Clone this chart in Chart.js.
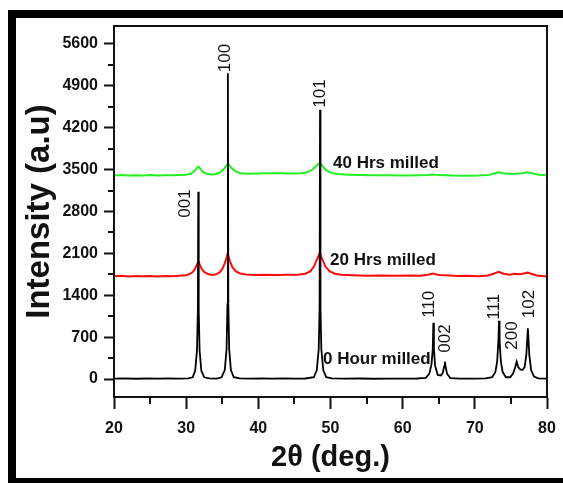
<!DOCTYPE html>
<html>
<head>
<meta charset="utf-8">
<script src="https://cdn.jsdelivr.net/npm/chart.js@4.4.1/dist/chart.umd.min.js"></script>
<style>
    html, body { margin: 0; padding: 0; background: #fff; }
    .wrap { position: relative; width: 563px; height: 483px; }
</style>
</head>
<body>
<div class="wrap"><canvas id="xrd"></canvas></div>
<script>
// 2θ ticks / intensity ticks
const xTicks = [20, 30, 40, 50, 60, 70, 80];
const yTicks = [0, 700, 1400, 2100, 2800, 3500, 4200, 4900, 5600];
const xMinor = [25, 35, 45, 55, 65, 75];
const yMinor = [350, 1050, 1750, 2450, 3150, 3850, 4550, 5250];

// 指標峰
const peakHkl = ['001', '100', '101', '110', '002', '111', '200', '102'];
const peakAngle = [31.68, 35.78, 48.55, 64.25, 65.85, 73.35, 75.8, 77.35];
const peakHeight = [3130, 5110, 4500, 940, 290, 975, 290, 850];

// 0 Hour milled  [2θ, intensity]
const hour0 = [
    [20, 6], [21.5, 10], [23, 5], [24.5, 9], [26, 6], [27.5, 11], [29, 8], [30.3, 12],
    [30.9, 30], [31.25, 140], [31.5, 480], [31.62, 1150], [31.68, 3130], [31.74, 1150], [31.86, 480], [32.1, 140], [32.5, 30], [33.2, 10],
    [34.2, 8], [34.9, 30], [35.35, 150], [35.6, 500], [35.72, 1250], [35.78, 5110], [35.84, 1250], [35.96, 500], [36.2, 150], [36.6, 30], [37.4, 10],
    [39, 6], [40.5, 12], [42, 7], [43.5, 10], [45, 6], [46.5, 9],
    [47.7, 30], [48.1, 150], [48.37, 500], [48.49, 1200], [48.55, 4500], [48.61, 1200], [48.73, 500], [49.0, 150], [49.4, 30], [50.2, 10],
    [52, 6], [54, 9], [56, 5], [58, 8], [60, 6], [62, 9], [63.2, 20],
    [63.7, 90], [64.0, 250], [64.17, 500], [64.25, 940], [64.33, 500], [64.5, 220], [64.85, 70], [65.3, 60],
    [65.55, 100], [65.75, 210], [65.85, 290], [65.95, 210], [66.15, 90], [66.6, 15],
    [68, 8], [70, 6], [71.5, 10], [72.4, 30], [72.85, 120], [73.1, 300], [73.27, 650], [73.35, 975], [73.43, 650], [73.6, 300], [73.85, 120], [74.3, 30], [74.9, 30],
    [75.3, 90], [75.6, 200], [75.8, 290], [76.0, 200], [76.3, 160], [76.6, 150], [76.9, 200], [77.15, 420], [77.35, 850], [77.55, 400], [77.8, 150], [78.2, 40], [78.8, 12], [80, 8]
];

// 20 Hrs milled
const hour20 = [
    [20, 1718], [21, 1725], [22, 1712], [23, 1722], [24, 1716], [25, 1724], [26, 1714], [27, 1722], [28, 1718], [29, 1726],
    [30, 1735], [30.6, 1760], [31.0, 1800], [31.3, 1860], [31.55, 1930], [31.7, 1965], [31.85, 1925], [32.1, 1850], [32.5, 1790],
    [33.0, 1755], [33.6, 1740], [34.2, 1750], [34.7, 1790], [35.1, 1860], [35.45, 1970], [35.75, 2100], [36.05, 1975], [36.4, 1870],
    [36.9, 1800], [37.5, 1765], [38.3, 1748], [39.5, 1740], [41, 1745], [42.5, 1738], [44, 1742], [45.5, 1745], [46.5, 1760],
    [47.2, 1800], [47.7, 1880], [48.1, 1990], [48.5, 2105], [48.9, 1990], [49.3, 1880], [49.9, 1800], [50.6, 1760], [51.5, 1742],
    [53, 1735], [55, 1728], [57, 1732], [59, 1725], [61, 1730], [62.5, 1728], [63.5, 1742], [64.2, 1762], [65, 1738], [66, 1735],
    [67.5, 1722], [69, 1726], [70.5, 1720], [71.8, 1730], [72.6, 1760], [73.3, 1792], [74.0, 1760], [74.8, 1745], [75.5, 1758],
    [76.2, 1750], [76.8, 1765], [77.3, 1778], [77.9, 1755], [78.6, 1730], [79.3, 1722], [80, 1715]
];

// 40 Hrs milled
const hour40 = [
    [20, 3402], [21, 3408], [22, 3400], [23, 3406], [24, 3401], [25, 3409], [26, 3403], [27, 3407], [28, 3404], [29, 3410],
    [30, 3414], [30.7, 3435], [31.2, 3480], [31.5, 3530], [31.7, 3550], [31.9, 3525], [32.3, 3465], [32.8, 3430], [33.5, 3418],
    [34.2, 3428], [34.8, 3460], [35.3, 3520], [35.8, 3605], [36.3, 3525], [36.9, 3465], [37.6, 3440], [38.5, 3432], [40, 3436],
    [41.5, 3440], [43, 3438], [44.5, 3436], [46, 3440], [46.9, 3460], [47.6, 3510], [48.1, 3570], [48.5, 3615], [48.9, 3560],
    [49.4, 3490], [50.1, 3445], [51, 3425], [52.5, 3416], [54, 3410], [56, 3406], [58, 3404], [60, 3402], [62, 3405], [63.5, 3410],
    [64.2, 3420], [65, 3408], [67, 3400], [69, 3398], [70.5, 3402], [72, 3412], [72.8, 3438], [73.3, 3455], [73.9, 3440],
    [74.8, 3430], [75.8, 3434], [76.6, 3440], [77.2, 3455], [77.9, 3438], [78.8, 3415], [80, 3405]
];

const seriesNames = ['0 Hour milled', '20 Hrs milled', '40 Hrs milled'];
// where the sample names sit (data coords)
const namePos = [[48.96, 334], [49.93, 1988], [50.35, 3609]];

// label nudges in px: [dx, gap below text]
const hklNudge = {
    '001': [-13, -26], '100': [-3, 1], '101': [0, 2], '110': [-4, 5],
    '002': [0, 9], '111': [-5, 1], '200': [-4, 12], '102': [1, 10]
};

const FONT = "'Liberation Sans', Arial, sans-serif";

const decor = {
    id: 'decor',
    beforeDraw(chart) {
        const c = chart.ctx;
        c.save();
        c.fillStyle = '#000';
        c.fillRect(8, 10, 555, 8);
        c.fillRect(8, 10, 8, 473);
        c.fillRect(8, 478, 555, 5);
        c.restore();
    },
    afterDraw(chart) {
        const c = chart.ctx;
        const {left, right, top, bottom} = chart.chartArea;
        const xs = chart.scales.x, ys = chart.scales.y;
        c.save();
        c.strokeStyle = '#111';
        c.lineWidth = 2;
        c.strokeRect(left, top, right - left, bottom - top);
        // minor ticks
        c.beginPath();
        xMinor.forEach(v => {
            const px = Math.round(xs.getPixelForValue(v));
            c.moveTo(px, bottom);
            c.lineTo(px, bottom + 7);
        });
        yMinor.forEach(v => {
            const py = Math.round(ys.getPixelForValue(v));
            c.moveTo(left - 6, py);
            c.lineTo(left, py);
        });
        c.stroke();

        // hkl labels
        c.fillStyle = '#111';
        c.font = '17px ' + FONT;
        c.textAlign = 'left';
        c.textBaseline = 'middle';
        peakHkl.forEach((h, i) => {
            const n = hklNudge[h];
            const px = xs.getPixelForValue(peakAngle[i]) + n[0];
            const py = ys.getPixelForValue(peakHeight[i]) - n[1];
            c.save();
            c.translate(px, py);
            c.rotate(-Math.PI / 2);
            c.fillText(h, 0, 0);
            c.restore();
        });

        // sample names
        c.font = 'bold 17px ' + FONT;
        seriesNames.forEach((s, i) => {
            c.fillText(s, xs.getPixelForValue(namePos[i][0]), ys.getPixelForValue(namePos[i][1]));
        });
        c.restore();
    }
};

new Chart(document.getElementById('xrd'), {
    type: 'line',
    data: {
        datasets: [
            { label: seriesNames[0], data: hour0, borderColor: '#000', borderWidth: 1.8 },
            { label: seriesNames[1], data: hour20, borderColor: '#ff0d0d', borderWidth: 2 },
            { label: seriesNames[2], data: hour40, borderColor: '#22f022', borderWidth: 2 }
        ]
    },
    options: {
        responsive: true,
        maintainAspectRatio: false,
        animation: false,
        layout: { padding: { left: 0, top: 26, right: 16, bottom: 0 } },
        elements: { point: { radius: 0 }, line: { tension: 0 } },
        scales: {
            x: {
                type: 'linear',
                min: 20,
                max: 80,
                afterBuildTicks: s => { s.ticks = xTicks.map(v => ({ value: v })); },
                // fixed box, no extra side padding for the end labels
                afterFit: s => { s.height = 86; s.paddingLeft = 0; s.paddingRight = 0; },
                ticks: {
                    color: '#111', padding: 10,
                    font: { family: FONT, size: 16, weight: 'bold' },
                    callback: v => String(v)
                },
                grid: { drawOnChartArea: false, tickLength: 12, tickWidth: 2, tickColor: '#111' },
                border: { color: '#111', width: 2 },
                title: {
                    display: true,
                    text: '2θ (deg.)',
                    color: '#111',
                    font: { family: FONT, size: 29, weight: 'bold' },
                    padding: { top: 0, bottom: 8 }
                }
            },
            y: {
                type: 'linear',
                min: -300,
                max: 5900,
                afterBuildTicks: s => { s.ticks = yTicks.map(v => ({ value: v })); },
                afterFit: s => { s.width = 114; },
                ticks: {
                    color: '#111', padding: 6,
                    font: { family: FONT, size: 16, weight: 'bold' },
                    callback: v => String(v)
                },
                grid: { drawOnChartArea: false, tickLength: 10, tickWidth: 2, tickColor: '#111' },
                border: { color: '#111', width: 2 },
                title: {
                    display: true,
                    text: 'Intensity (a.u)',
                    color: '#111',
                    font: { family: FONT, size: 33, weight: 'bold' },
                    padding: { top: 20, bottom: 0 }
                }
            }
        },
        plugins: {
            legend: { display: false },
            tooltip: { enabled: false }
        }
    },
    plugins: [decor]
});
</script>
</body>
</html>
